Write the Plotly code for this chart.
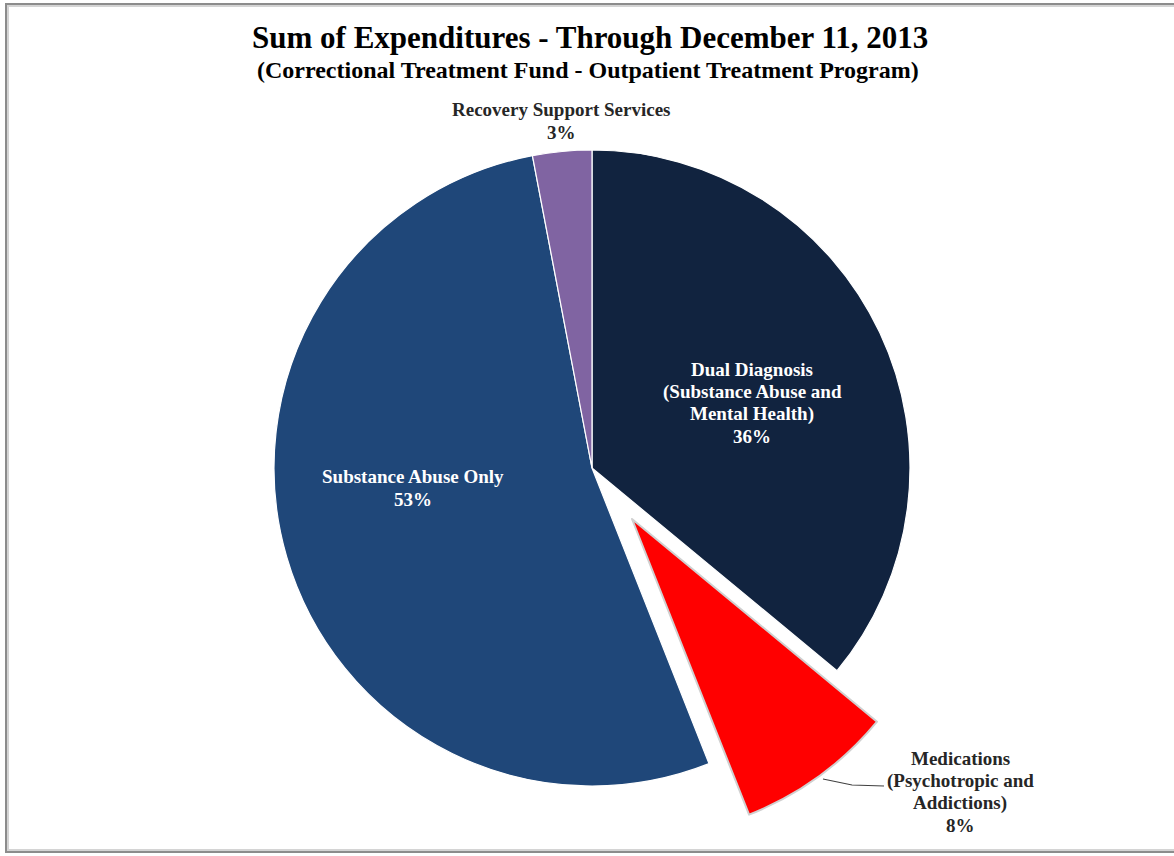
import plotly.graph_objects as go

# Expenditure shares by category (percent), in clockwise order from 12 o'clock
categories = [
    "Dual Diagnosis (Substance Abuse and Mental Health)",
    "Medications (Psychotropic and Addictions)",
    "Substance Abuse Only",
    "Recovery Support Services",
]
label_lines = [
    ["Dual Diagnosis", "(Substance Abuse and", "Mental Health)"],
    ["Medications", "(Psychotropic and", "Addictions)"],
    ["Substance Abuse Only"],
    ["Recovery Support Services"],
]
shares = [36, 8, 53, 3]
colors = ["#11233F", "#FF0000", "#1F4779", "#8064A2"]
exploded = 1  # index of the slice pulled out of the pie

title_text = "Sum of Expenditures - Through December 11, 2013"
subtitle_text = "(Correctional Treatment Fund - Outpatient Treatment Program)"

W, H = 1174, 856
FONT = "Liberation Serif, Times New Roman, serif"

# Pie geometry in pixels
cx, cy, R = 592, 468, 318
pull_dx, pull_dy = 40, 51


def px_x(x):
    return x / W


def px_y(y):
    return 1 - y / H


def domain(cx_, cy_):
    return dict(x=[px_x(cx_ - R), px_x(cx_ + R)], y=[px_y(cy_ + R), px_y(cy_ - R)])


clear = "rgba(0,0,0,0)"
main_colors = [clear if i == exploded else c for i, c in enumerate(colors)]
main_widths = [0 if i == exploded else 1.2 for i in range(len(shares))]
out_colors = [c if i == exploded else clear for i, c in enumerate(colors)]
out_widths = [2 if i == exploded else 0 for i in range(len(shares))]

fig = go.Figure()
fig.add_trace(go.Pie(
    labels=categories, values=shares, sort=False, direction="clockwise", rotation=0,
    marker=dict(colors=main_colors, line=dict(color="white", width=main_widths)),
    textinfo="none", hoverinfo="label+percent", showlegend=False,
    domain=domain(cx, cy),
))
fig.add_trace(go.Pie(
    labels=categories, values=shares, sort=False, direction="clockwise", rotation=0,
    marker=dict(colors=out_colors, line=dict(color="#D0D0D0", width=out_widths)),
    textinfo="none", hoverinfo="skip", showlegend=False,
    domain=domain(cx + pull_dx, cy + pull_dy),
))

total = sum(shares)


def label_rows(i):
    pct = f"{round(100 * shares[i] / total)}%"
    return label_lines[i] + [pct]


# label block centres (pixels), text colours and line pitch
label_pos = [(752, 403, "white"), (960, 792, "#262626"), (413, 488, "white"), (561, 121, "#262626")]
LINE_PITCH = 22.5

annotations = []
for i, (lx, ly, col) in enumerate(label_pos):
    rows = label_rows(i)
    top = ly - LINE_PITCH * (len(rows) - 1) / 2
    for k, row in enumerate(rows):
        annotations.append(dict(
            x=px_x(lx), y=px_y(top + k * LINE_PITCH), xref="paper", yref="paper",
            xanchor="center", yanchor="middle",
            text=f"<b>{row}</b>", showarrow=False,
            font=dict(family=FONT, size=19, color=col),
        ))

annotations.append(dict(
    x=px_x(590), y=px_y(38), xref="paper", yref="paper", xanchor="center", yanchor="middle",
    text=f"<b>{title_text}</b>", showarrow=False, font=dict(family=FONT, size=31, color="black"),
))
annotations.append(dict(
    x=px_x(588), y=px_y(70), xref="paper", yref="paper", xanchor="center", yanchor="middle",
    text=f"<b>{subtitle_text}</b>", showarrow=False, font=dict(family=FONT, size=24, color="black"),
))

# leader line from the exploded slice to its label
leader = [(823, 779), (852, 785), (884, 786)]
path = "M " + " L ".join(f"{px_x(x)},{px_y(y)}" for x, y in leader)

shapes = [
    dict(type="path", xref="paper", yref="paper", path=path, line=dict(color="#404040", width=1.2)),
    # chart frame
    dict(type="rect", xref="paper", yref="paper", x0=px_x(6), x1=1.02, y0=px_y(852), y1=px_y(4),
         line=dict(color="#8C8C8C", width=2)),
    dict(type="rect", xref="paper", yref="paper", x0=px_x(8), x1=1.02, y0=px_y(850), y1=px_y(6),
         line=dict(color="#D4D4D4", width=2)),
]

fig.update_layout(
    width=W, height=H, margin=dict(l=0, r=0, t=0, b=0),
    paper_bgcolor="white", plot_bgcolor="white",
    annotations=annotations, shapes=shapes,
)

fig.write_html("out.html")
